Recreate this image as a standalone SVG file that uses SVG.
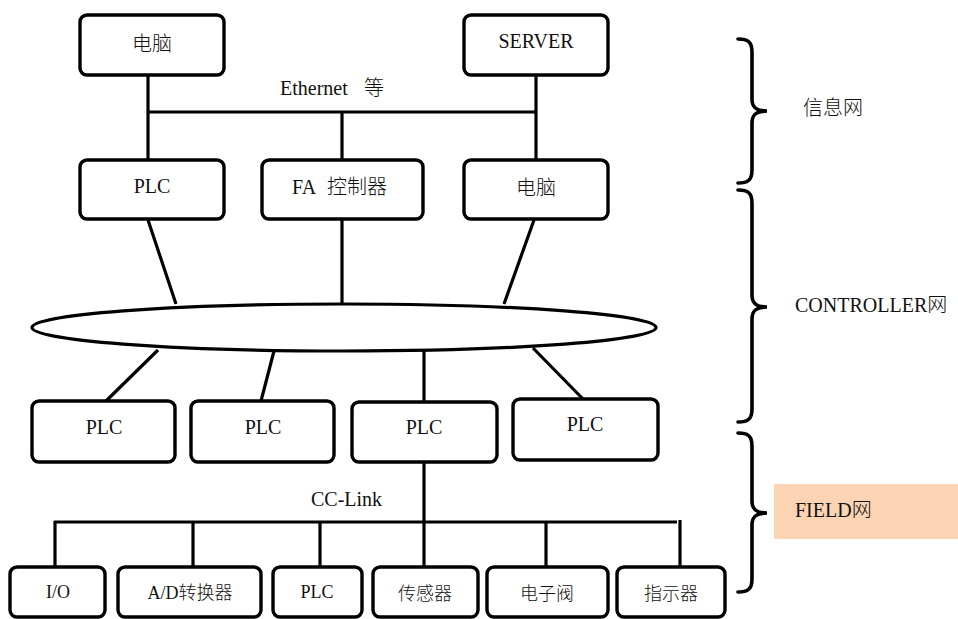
<svg xmlns="http://www.w3.org/2000/svg" width="958" height="619" viewBox="0 0 958 619">
  <style>
    .box { fill: #ffffff; stroke: #000000; stroke-width: 3.4; }
    .wire { fill: none; stroke: #000000; stroke-width: 3.2; }
    .brace { fill: none; stroke: #000000; stroke-width: 3.6; stroke-linecap: round; }
    text { font-family: "Liberation Serif", "Times New Roman", "DejaVu Serif", serif; fill: #111111; }
    .cjk { font-family: "Noto Sans CJK SC", "Noto Sans CJK JP", sans-serif; font-weight: 300; }
    .t20 { font-size: 20px; text-anchor: middle; }
    .t18 { font-size: 18px; text-anchor: middle; }
    .lbl { font-size: 20px; }
  </style>

  <rect x="0" y="0" width="958" height="619" fill="#ffffff"/>

  <!-- connectors -->
  <g id="connectors">
    <!-- Ethernet segment -->
    <line class="wire" x1="148" y1="75" x2="148" y2="160"/>
    <line class="wire" x1="536" y1="75" x2="536" y2="160"/>
    <line class="wire" x1="148" y1="112" x2="536" y2="112"/>
    <line class="wire" x1="342" y1="112" x2="342" y2="160"/>
    <!-- controllers to ring -->
    <line class="wire" x1="148" y1="220" x2="176" y2="304"/>
    <line class="wire" x1="342" y1="219" x2="342" y2="304"/>
    <line class="wire" x1="534" y1="220" x2="504" y2="304"/>
    <!-- ring to PLCs -->
    <line class="wire" x1="158" y1="350" x2="106" y2="401"/>
    <line class="wire" x1="274" y1="351" x2="261" y2="401"/>
    <line class="wire" x1="424" y1="351" x2="424" y2="401"/>
    <line class="wire" x1="533" y1="348" x2="583" y2="399"/>
    <!-- CC-Link bus -->
    <line class="wire" x1="424" y1="462" x2="424" y2="567"/>
    <line class="wire" x1="54" y1="522" x2="677" y2="522"/>
    <line class="wire" x1="55" y1="521" x2="55" y2="567"/>
    <line class="wire" x1="193" y1="521" x2="193" y2="567"/>
    <line class="wire" x1="320" y1="521" x2="320" y2="567"/>
    <line class="wire" x1="546" y1="521" x2="546" y2="567"/>
    <line class="wire" x1="680" y1="520" x2="680" y2="567"/>
    <!-- controller network ring -->
    <ellipse class="wire" cx="344" cy="327.5" rx="312" ry="23.5" fill="#ffffff"/>
  </g>

  <!-- information layer -->
  <g id="pc-top">
    <rect class="box" x="80" y="15" width="144" height="60" rx="7"/>
    <text class="t20 cjk" x="152" y="51">电脑</text>
  </g>
  <g id="server">
    <rect class="box" x="464" y="15" width="144" height="60" rx="7"/>
    <text class="t20" x="536" y="48">SERVER</text>
  </g>
  <text id="ethernet-label" class="lbl" x="280" y="95">Ethernet<tspan class="cjk" x="364">等</tspan></text>

  <!-- controller layer -->
  <g id="plc-a">
    <rect class="box" x="80" y="160" width="144" height="59" rx="7"/>
    <text class="t20" x="152" y="193">PLC</text>
  </g>
  <g id="fa-controller">
    <rect class="box" x="262" y="160" width="161" height="59" rx="7"/>
    <text class="lbl" x="292" y="194">FA<tspan class="cjk" x="327">控制器</tspan></text>
  </g>
  <g id="pc-mid">
    <rect class="box" x="464" y="160" width="144" height="59" rx="7"/>
    <text class="t20 cjk" x="536" y="195">电脑</text>
  </g>

  <g id="plc-1">
    <rect class="box" x="32" y="401" width="143" height="61" rx="7"/>
    <text class="t20" x="104" y="434">PLC</text>
  </g>
  <g id="plc-2">
    <rect class="box" x="191" y="401" width="143" height="61" rx="7"/>
    <text class="t20" x="263" y="434">PLC</text>
  </g>
  <g id="plc-3">
    <rect class="box" x="352" y="402" width="145" height="60" rx="7"/>
    <text class="t20" x="424" y="434">PLC</text>
  </g>
  <g id="plc-4">
    <rect class="box" x="513" y="399" width="145" height="61" rx="7"/>
    <text class="t20" x="585" y="431">PLC</text>
  </g>

  <text id="cclink-label" class="lbl" x="311" y="506">CC-Link</text>

  <!-- field layer -->
  <g id="io">
    <rect class="box" x="10" y="567" width="95" height="50" rx="7"/>
    <text class="t18" x="58" y="598">I/O</text>
  </g>
  <g id="ad-converter">
    <rect class="box" x="118" y="567" width="143" height="50" rx="7"/>
    <text class="t18" x="190" y="599">A/D<tspan class="cjk">转换器</tspan></text>
  </g>
  <g id="plc-field">
    <rect class="box" x="273" y="567" width="89" height="50" rx="7"/>
    <text class="t18" x="317" y="598">PLC</text>
  </g>
  <g id="sensor">
    <rect class="box" x="373" y="567" width="105" height="50" rx="7"/>
    <text class="t18 cjk" x="425" y="600">传感器</text>
  </g>
  <g id="valve">
    <rect class="box" x="487" y="567" width="121" height="50" rx="7"/>
    <text class="t18 cjk" x="547" y="600">电子阀</text>
  </g>
  <g id="indicator">
    <rect class="box" x="617" y="567" width="108" height="50" rx="7"/>
    <text class="t18 cjk" x="671" y="600">指示器</text>
  </g>

  <!-- layer braces -->
  <g id="brace-info">
    <path class="brace" d="M738,39 C748,39 752,42 752,52 L752,99 C752,108 757,111 767,111 C757,111 752,114 752,123 L752,170 C752,180 748,183 738,183"/>
    <text class="lbl cjk" x="803" y="115">信息网</text>
  </g>
  <g id="brace-controller">
    <path class="brace" d="M738,190 C748,190 752,193 752,203 L752,295 C752,304 757,307 767,307 C757,307 752,310 752,319 L752,409 C752,419 748,422 738,422"/>
    <text class="lbl" x="795" y="312">CONTROLLER<tspan class="cjk">网</tspan></text>
  </g>
  <g id="brace-field">
    <rect x="774" y="484" width="184" height="55" fill="#fbd4b4"/>
    <path class="brace" d="M738,433 C748,433 752,436 752,446 L752,501 C752,510 757,513 767,513 C757,513 752,516 752,525 L752,579 C752,589 748,592 738,592"/>
    <text class="lbl" x="795" y="517">FIELD<tspan class="cjk">网</tspan></text>
  </g>
</svg>
